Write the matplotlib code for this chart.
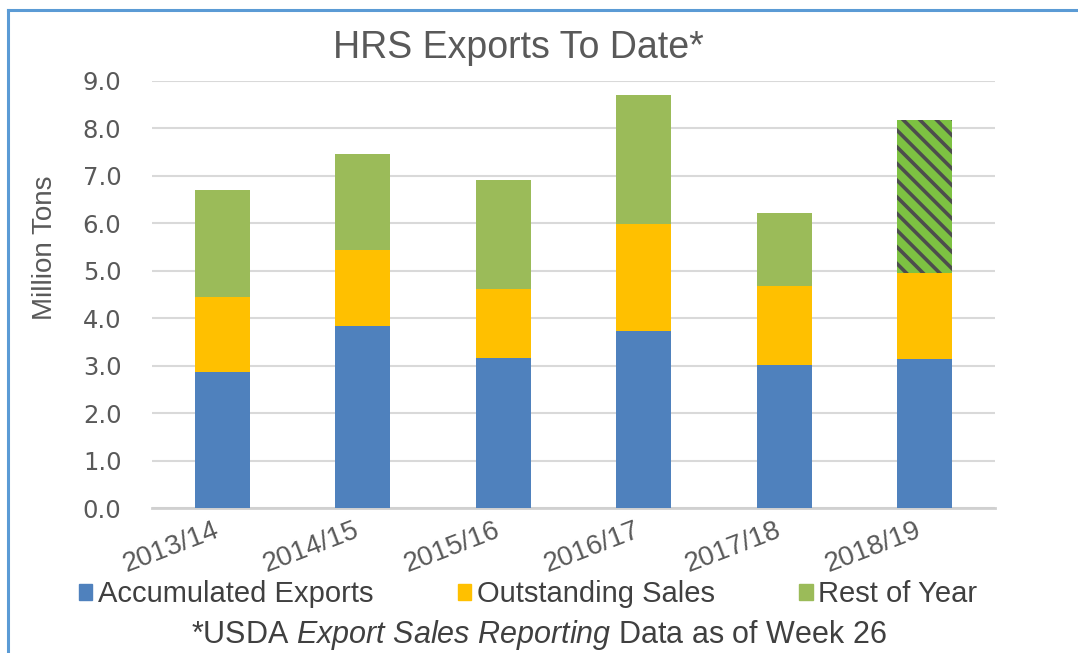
import numpy as np
import matplotlib.pyplot as plt
from matplotlib.lines import Line2D
from matplotlib.patches import Patch
import matplotlib.transforms as mtransforms

# data (million tons)
years = ["2013/14", "2014/15", "2015/16", "2016/17", "2017/18", "2018/19"]
accumulated = [2.87, 3.84, 3.16, 3.73, 3.01, 3.14]
outstanding = [1.58, 1.60, 1.46, 2.26, 1.67, 1.82]
rest_of_year = [2.25, 2.02, 2.29, 2.72, 1.54, 3.22]

BLUE = "#4F81BD"
ORANGE = "#FFC000"
GREEN = "#9BBB59"
GREEN_HATCH = "#7DC142"
GRAY_TXT = "#595959"

plt.rcParams["font.family"] = ["Liberation Sans", "DejaVu Sans"]
plt.rcParams["mathtext.fontset"] = "custom"
plt.rcParams["mathtext.rm"] = "Liberation Sans"
plt.rcParams["mathtext.it"] = "Liberation Sans:italic"
plt.rcParams["hatch.linewidth"] = 2.6

fig = plt.figure(figsize=(10.78, 6.53), dpi=100)
ax = fig.add_axes([0.141, 0.222, 0.782, 0.654])

x = np.arange(len(years))
acc = np.array(accumulated)
out = np.array(outstanding)
rest = np.array(rest_of_year)
w = 0.39

ax.bar(x, acc, w, color=BLUE, zorder=3)
ax.bar(x, out, w, bottom=acc, color=ORANGE, zorder=3)
# last season is projected -> hatched
ax.bar(x[:-1], rest[:-1], w, bottom=(acc + out)[:-1], color=GREEN, zorder=3)
ax.bar(x[-1:], rest[-1:], w, bottom=(acc + out)[-1:], color=GREEN_HATCH,
       edgecolor="#4D4D4D", linewidth=0, hatch="\\\\", zorder=3)

ax.set_xlim(-0.5, len(years) - 0.5)
ax.set_ylim(0, 9)
ax.set_yticks(np.arange(0, 9.1, 1.0))
ax.set_yticklabels([f"{v:.1f}" for v in np.arange(0, 9.1, 1.0)],
                   family="DejaVu Sans", fontsize=17.5, color=GRAY_TXT)
ax.set_xticks(x)
ax.set_xticklabels(years, rotation=21, ha="right", fontsize=20, color=GRAY_TXT)
offset = mtransforms.ScaledTranslation(28 / 100, 0, fig.dpi_scale_trans)
for lbl in ax.get_xticklabels():
    lbl.set_transform(lbl.get_transform() + offset)
ax.tick_params(axis="y", length=0, pad=22)
ax.tick_params(axis="x", length=0, pad=7)

ax.grid(axis="y", color="#D9D9D9", linewidth=1.5, zorder=0)
for s in ["top", "right", "left"]:
    ax.spines[s].set_visible(False)
ax.spines["bottom"].set_color("#D0D0D0")
ax.spines["bottom"].set_linewidth(2)

ax.set_ylabel("Million Tons", fontsize=20, color=GRAY_TXT)
ax.yaxis.set_label_coords(-0.112, 0.61)

fig.text(0.481, 0.927, "HRS Exports To Date*", ha="center", va="center",
         fontsize=27, color=GRAY_TXT)

handles = [Patch(color=BLUE), Patch(color=ORANGE), Patch(color=GREEN)]
fig.legend(handles, ["Accumulated Exports", "Outstanding Sales", "Rest of Year"],
           loc="center", bbox_to_anchor=(0.49, 0.09), ncol=3, frameon=False,
           fontsize=21, handlelength=0.45, handleheight=0.45, handletextpad=0.2,
           columnspacing=2.9, labelcolor="#404040")

fig.text(0.5, 0.028, r"*USDA $\mathit{Export\ Sales\ Reporting}$ Data as of Week 26",
         ha="center", va="center", fontsize=22, color="#404040")

# blue frame at top and left
fig.add_artist(Line2D([0.007, 1.0], [0.985, 0.985], color="#5B9BD5", linewidth=2.2))
fig.add_artist(Line2D([0.007, 0.007], [0.0, 0.985], color="#5B9BD5", linewidth=2.2))

fig.savefig("out.png", dpi=100)
